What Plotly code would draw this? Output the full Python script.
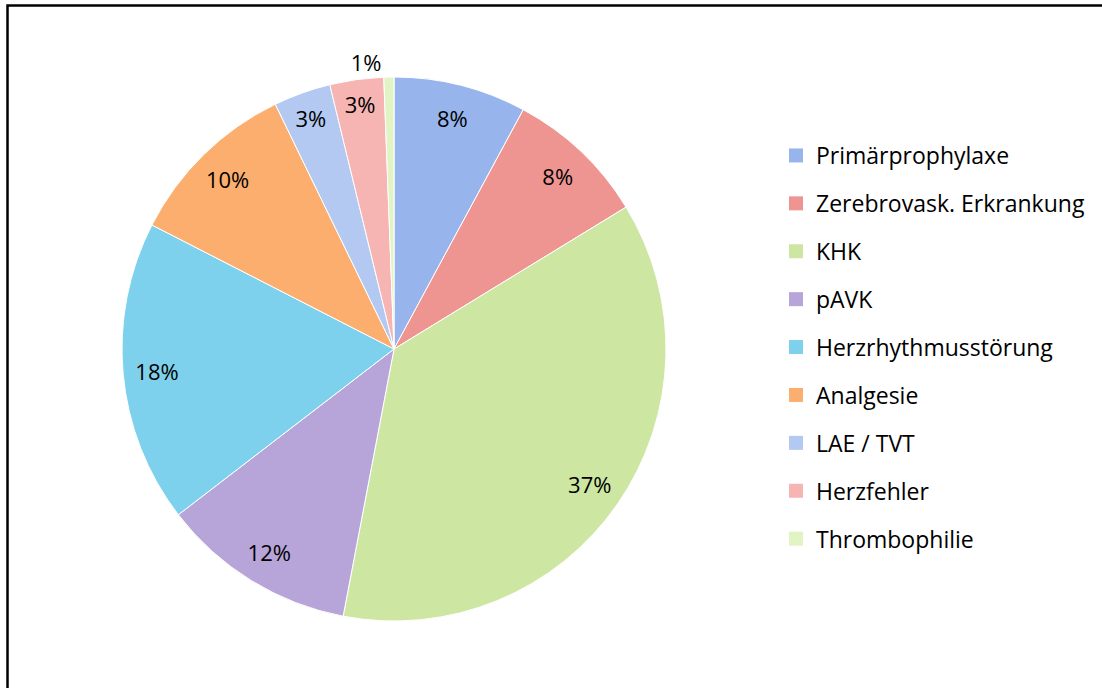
import plotly.graph_objects as go

labels = ["Primärprophylaxe", "Zerebrovask. Erkrankung", "KHK", "pAVK",
          "Herzrhythmusstörung", "Analgesie", "LAE / TVT", "Herzfehler", "Thrombophilie"]
values = [7.9, 8.4, 36.8, 11.6, 18.0, 10.3, 3.4, 3.2, 0.6]
colors = ["#97B5EC", "#EE9592", "#CDE7A2", "#B7A4D8", "#7ED1EC",
          "#FBAE6E", "#B3C9F2", "#F6B4B2", "#E2F3C4"]
text_pos = ["inside"] * 8 + ["outside"]

W, H = 1102, 688
cx, cy, R = 394, 349, 272
dom_x = [(cx - R) / W, (cx + R) / W]
dom_y = [1 - (cy + R) / H, 1 - (cy - R) / H]
FONT = "Open Sans"
FS = 22
LFS = 23

fig = go.Figure()
# main pie (no text)
fig.add_trace(go.Pie(
    labels=labels, values=values, sort=False, direction="clockwise", rotation=0,
    marker=dict(colors=colors, line=dict(color="white", width=1)),
    textinfo="none", showlegend=False, domain=dict(x=dom_x, y=dom_y),
    hoverinfo="label+percent",
))
# transparent ring used to place the labels near the rim
fig.add_trace(go.Pie(
    labels=labels, values=values, sort=False, direction="clockwise", rotation=0,
    hole=0.75, marker=dict(colors=["rgba(0,0,0,0)"] * len(labels), line=dict(width=0)),
    texttemplate="%{percent:.0%}", textposition=text_pos,
    insidetextorientation="horizontal",
    textfont=dict(family=FONT, size=FS, color="black"),
    showlegend=False, domain=dict(x=dom_x, y=dom_y), hoverinfo="skip",
))
# legend entries
for i, (lab, col) in enumerate(zip(labels, colors)):
    fig.add_trace(go.Scatter(
        x=[None], y=[None], mode="markers", name=lab, legendgroup=f"g{i}",
        marker=dict(symbol="square", size=14, color=col),
    ))

fig.update_layout(
    width=W, height=H, margin=dict(l=0, r=0, t=0, b=0),
    paper_bgcolor="white", plot_bgcolor="white",
    font=dict(family=FONT, size=FS, color="black"),
    xaxis=dict(visible=False), yaxis=dict(visible=False),
    legend=dict(x=776 / W, y=1 - 134 / H, xanchor="left", yanchor="top",
                traceorder="grouped", tracegroupgap=15,
                font=dict(family=FONT, size=LFS, color="black"),
                itemclick=False, itemdoubleclick=False),
    shapes=[dict(type="rect", xref="paper", yref="paper",
                 x0=7.5 / W, y0=-0.05, x1=1.05, y1=1 - 5.5 / H,
                 line=dict(color="black", width=2.5))],
)
fig.write_html("out.html")
